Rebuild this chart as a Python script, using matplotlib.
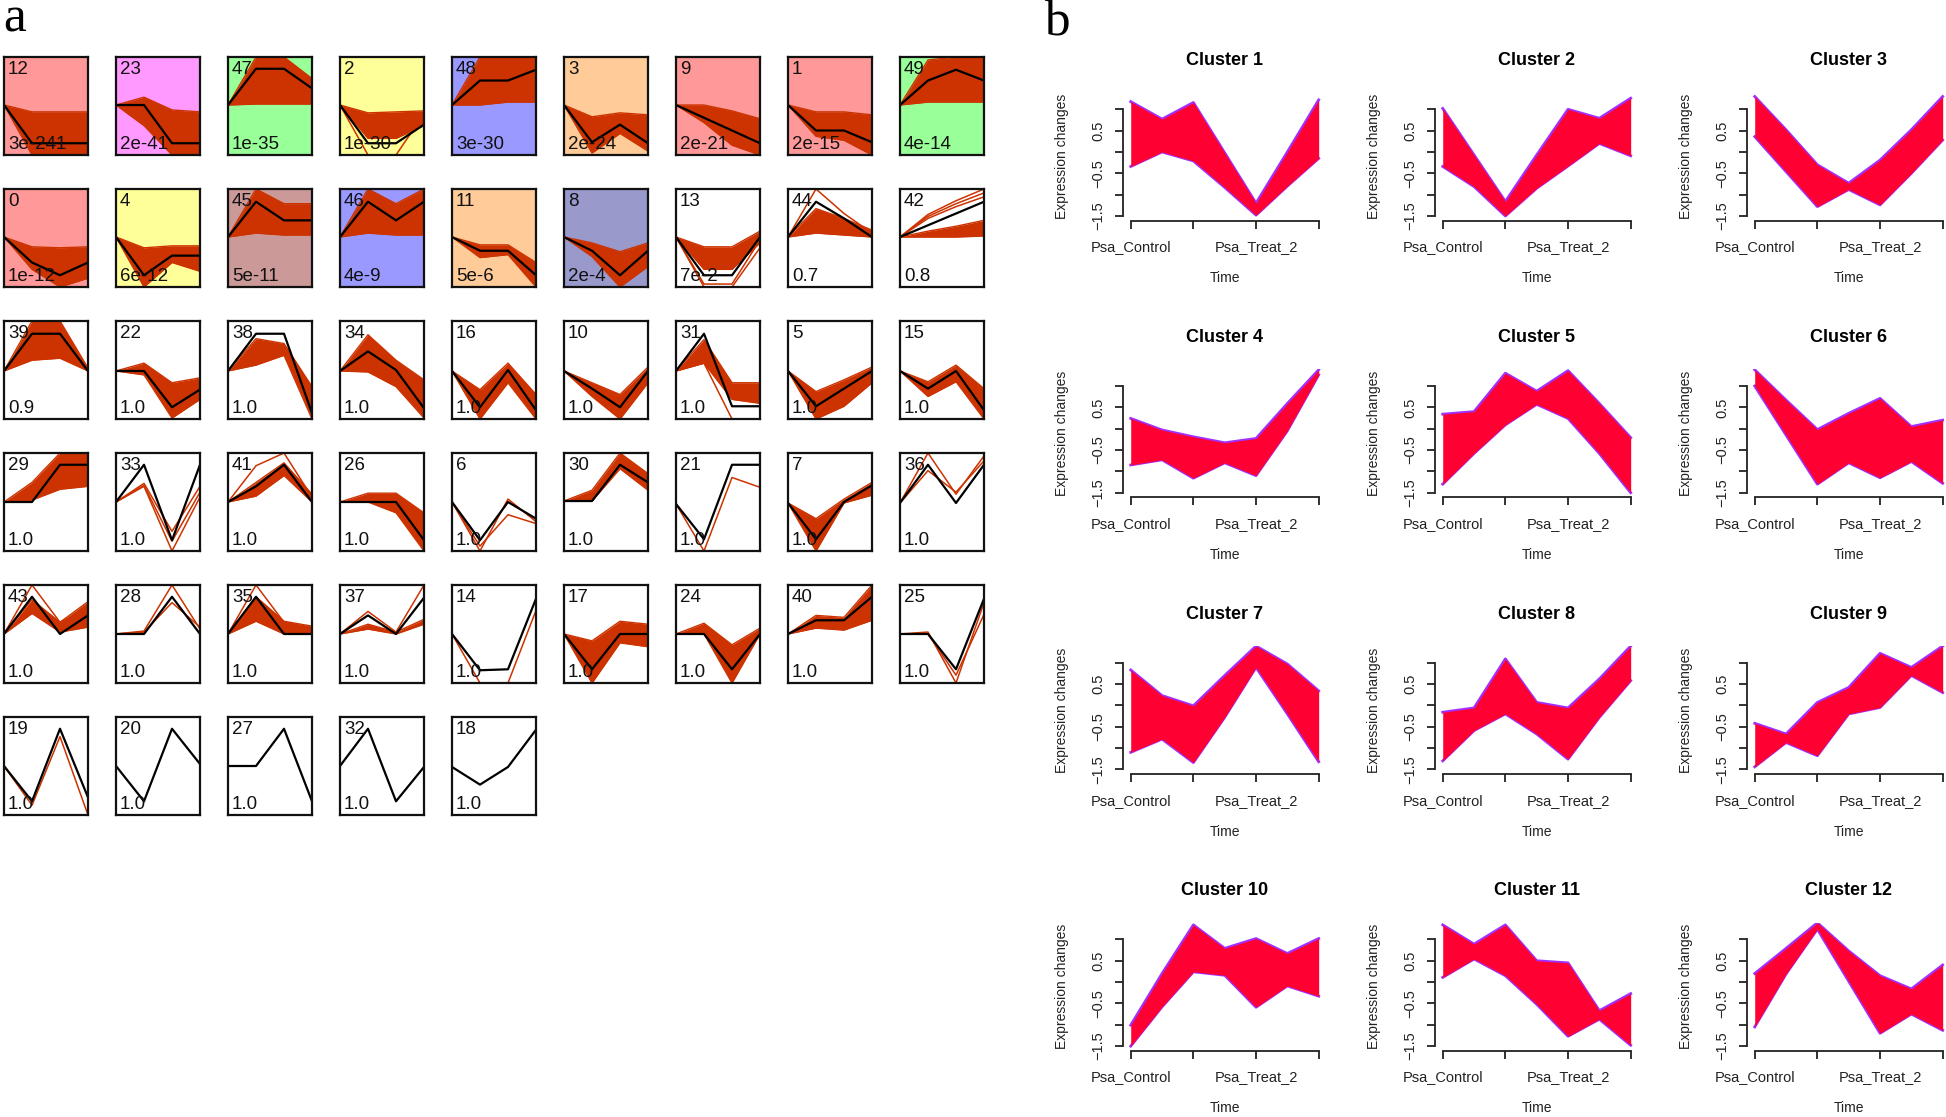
import matplotlib
matplotlib.use('Agg')
import matplotlib.pyplot as plt

# ---------------- Panel a data (STEM profiles, levels 0-100 within each box) ----------------
a_ids = [12, 23, 47, 2, 48, 3, 9, 1, 49,
         0, 4, 45, 46, 11, 8, 13, 44, 42,
         39, 22, 38, 34, 16, 10, 31, 5, 15,
         29, 33, 41, 26, 6, 30, 21, 7, 36,
         43, 28, 35, 37, 14, 17, 24, 40, 25,
         19, 20, 27, 32, 18]
a_pvals = ['3e-241', '2e-41', '1e-35', '1e-30', '3e-30', '2e-24', '2e-21', '2e-15', '4e-14',
           '1e-12', '6e-12', '5e-11', '4e-9', '5e-6', '2e-4', '7e-2', '0.7', '0.8',
           '0.9', '1.0', '1.0', '1.0', '1.0', '1.0', '1.0', '1.0', '1.0',
           '1.0', '1.0', '1.0', '1.0', '1.0', '1.0', '1.0', '1.0', '1.0',
           '1.0', '1.0', '1.0', '1.0', '1.0', '1.0', '1.0', '1.0', '1.0',
           '1.0', '1.0', '1.0', '1.0', '1.0']
a_colors = ['#FF9999', '#FF99FF', '#99FF99', '#FFFF99', '#9999FF', '#FFCC99', '#FF9999', '#FF9999', '#99FF99',
            '#FF9999', '#FFFF99', '#CC9999', '#9999FF', '#FFCC99', '#9999CC', 'white', 'white', 'white'] + ['white'] * 32
a_model = [[51, 12, 12, 12], [51, 51, 12, 12], [51, 88, 88, 68], [51, 12, 12, 31], [51, 76, 76, 87],
           [51, 13, 31, 12], [51, 38, 25, 12], [51, 25, 25, 13], [51, 76, 87, 76],
           [51, 25, 12, 25], [51, 12, 32, 32], [51, 87, 68, 68], [51, 87, 68, 87], [51, 37, 37, 12],
           [51, 37, 12, 37], [51, 12, 12, 51], [51, 87, 70, 51], [51, 63, 75, 87],
           [49, 87, 87, 49], [49, 49, 12, 30], [49, 87, 87, 6], [49, 69, 50, 11], [49, 12, 50, 9],
           [49, 31, 12, 49], [49, 87, 13, 13], [49, 13, 31, 49], [49, 31, 49, 9],
           [50, 50, 88, 88], [50, 88, 11, 88], [50, 66, 88, 50], [50, 50, 50, 11], [50, 11, 50, 33],
           [51, 51, 88, 70], [48, 12, 88, 88], [49, 12, 50, 67], [49, 88, 49, 88],
           [50, 88, 50, 69], [50, 50, 88, 50], [50, 88, 50, 50], [50, 69, 50, 87], [50, 13, 14, 86],
           [50, 14, 50, 50], [50, 50, 14, 50], [50, 64, 64, 88], [50, 50, 14, 86],
           [50, 14, 88, 18], [50, 14, 88, 52], [50, 50, 88, 14], [50, 88, 14, 49], [49, 31, 49, 87]]
a_band_hi = [[51, 44, 44, 44], [51, 59, 46, 44], [51, 100, 100, 78], [51, 43, 44, 45], [51, 100, 100, 100],
             [51, 39, 43, 41], [51, 51, 45, 37], [51, 44, 44, 41], [51, 97, 100, 100],
             [51, 41, 40, 41], [51, 40, 42, 42], [51, 100, 85, 85], [51, 100, 85, 100], [51, 43, 43, 25],
             [51, 45, 36, 45], [51, 41, 41, 57], [51, 80, 70, 58], [51, 57, 62, 68],
             [49, 100, 100, 52], [49, 57, 37, 42], [49, 82, 77, 33], [49, 86, 60, 40], [49, 30, 57, 25],
             [49, 37, 25, 53], [49, 81, 37, 37], [49, 28, 40, 53], [49, 38, 55, 31],
             [50, 70, 100, 100], None, [50, 70, 90, 58], [50, 59, 59, 39], None,
             [51, 62, 100, 79], None, [49, 33, 53, 70], None,
             [50, 85, 62, 83], None, [50, 88, 63, 58], [50, 60, 52, 65], None,
             [50, 43, 63, 60], [50, 61, 39, 56], [50, 69, 67, 100], None,
             None, None, None, None, None]
a_band_lo = [[51, 0, 0, 0], [51, 30, 0, 0], [51, 52, 52, 52], [51, 17, 17, 30], [51, 51, 54, 54],
             [51, 2, 22, 4], [51, 33, 10, 0], [51, 19, 15, 0], [51, 54, 54, 54],
             [51, 18, 0, 9], [51, 0, 25, 16], [51, 55, 53, 53], [51, 55, 53, 53], [51, 30, 33, 0],
             [51, 31, 0, 21], [51, 18, 18, 45], [51, 55, 53, 51], [51, 51, 51, 52],
             [49, 60, 62, 49], [49, 45, 1, 20], [49, 55, 65, 0], [49, 48, 33, 1], [49, 0, 37, 0],
             [49, 23, 0, 37], [49, 57, 20, 16], [49, 0, 13, 37], [49, 23, 38, 0],
             [50, 52, 63, 66], None, [50, 56, 77, 50], [50, 50, 39, 0], None,
             [51, 51, 84, 62], None, [49, 0, 49, 57], None,
             [50, 71, 52, 57], None, [50, 63, 50, 50], [50, 55, 50, 60], None,
             [50, 0, 41, 37], [50, 50, 0, 50], [50, 56, 54, 64], None,
             None, None, None, None, None]
a_lines = [[], [], [], [[51, 0, 0, 42]], [], [], [], [], [],
           [], [], [], [], [], [], [[51, 0, 0, 40], [51, 3, 3, 48]], [[51, 100, 75, 55]],
           [[51, 74, 88, 100], [51, 72, 85, 96], [51, 70, 82, 92]],
           [], [], [], [], [], [], [[49, 57, 0, 0]], [], [],
           [], [[50, 69, 20, 66], [50, 67, 10, 60], [50, 66, 0, 55]], [[50, 87, 100, 55]], [],
           [[50, 0, 53, 30], [50, 5, 37, 28]], [], [[48, 0, 75, 65]], [], [[49, 100, 58, 97], [49, 82, 60, 92]],
           [[50, 100, 62, 75]], [[50, 53, 100, 55], [50, 52, 82, 57]], [[50, 100, 62, 56]], [[50, 73, 52, 100]],
           [[50, 0, 0, 74]], [], [], [], [[50, 52, 0, 82], [50, 50, 8, 70]],
           [[50, 10, 80, 0]], [], [], [], []]
a_time = [0, 1, 2, 3]

# ---------------- Panel b data (Mfuzz cluster envelopes) ----------------
b_time = [1, 2, 3, 4, 5, 6, 7]
b_time_labels = ['Psa_Control', '', 'Psa_Treat_2', '']
b_titles = ['Cluster %d' % i for i in range(1, 13)]
b_upper = [[1.18, 0.77, 1.16, -0.02, -1.20, 0.00, 1.22],
           [1.02, -0.07, -1.16, -0.07, 1.00, 0.79, 1.26],
           [1.30, 0.52, -0.30, -0.73, -0.19, 0.52, 1.30],
           [0.24, -0.03, -0.19, -0.33, -0.23, 0.59, 1.38],
           [0.34, 0.40, 1.30, 0.88, 1.36, 0.59, -0.21],
           [1.38, 0.67, -0.02, 0.36, 0.71, 0.05, 0.20],
           [0.83, 0.23, -0.01, 0.70, 1.39, 0.97, 0.34],
           [-0.16, -0.06, 1.09, 0.07, -0.06, 0.62, 1.39],
           [-0.42, -0.67, 0.07, 0.42, 1.22, 0.89, 1.39],
           [-1.01, 0.20, 1.34, 0.79, 1.02, 0.67, 1.02],
           [1.34, 0.89, 1.34, 0.50, 0.45, -0.67, -0.27],
           [0.20, 0.79, 1.39, 0.73, 0.15, -0.16, 0.40]]
b_lower = [[-0.34, 0.00, -0.21, -0.83, -1.48, -0.80, -0.15],
           [-0.34, -0.81, -1.50, -0.85, -0.33, 0.20, -0.09],
           [0.36, -0.46, -1.28, -0.88, -1.24, -0.50, 0.28],
           [-0.85, -0.73, -1.16, -0.80, -1.10, -0.05, 1.26],
           [-1.30, -0.58, 0.09, 0.57, 0.24, -0.58, -1.50],
           [1.00, -0.15, -1.30, -0.80, -1.15, -0.77, -1.28],
           [-1.10, -0.79, -1.34, -0.28, 0.89, -0.20, -1.32],
           [-1.30, -0.59, -0.20, -0.67, -1.26, -0.28, 0.58],
           [-1.44, -0.87, -1.18, -0.20, -0.05, 0.70, 0.30],
           [-1.50, -0.58, 0.24, 0.16, -0.59, -0.09, -0.33],
           [0.11, 0.54, 0.15, -0.52, -1.27, -0.87, -1.48],
           [-1.05, 0.19, 1.24, 0.02, -1.20, -0.75, -1.13]]

# ---------------- figure ----------------
W, H = 1946, 1117
plt.rcParams['font.family'] = ['Liberation Sans', 'DejaVu Sans']
fig = plt.figure(figsize=(W / 100, H / 100), dpi=100)
fig.patch.set_facecolor('white')


def px_axes(left, top, w, h):
    return fig.add_axes([left / W, 1 - (top + h) / H, w / W, h / H])


RED = '#CC3300'
fig.text(3 / W, 1 - 32 / H, 'a', family='Liberation Serif', fontsize=37, va='baseline', ha='left')
fig.text(1044 / W, 1 - 36 / H, 'b', family='Liberation Serif', fontsize=37, va='baseline', ha='left')

for i, pid in enumerate(a_ids):
    r, c = divmod(i, 9)
    ax = px_axes(4 + 112 * c, 57 + 132 * r, 84, 98)
    ax.set_facecolor(a_colors[i])
    ax.set_xlim(0, 3)
    ax.set_ylim(0, 100)
    ax.set_xticks([])
    ax.set_yticks([])
    for s in ax.spines.values():
        s.set_linewidth(1.6)
        s.set_color('#111111')
        s.set_zorder(6)
    if a_band_hi[i] is not None:
        ax.fill_between(a_time, a_band_lo[i], a_band_hi[i], color=RED, lw=0, zorder=2)
        ax.plot(a_time, a_band_hi[i], color=RED, lw=1.0, zorder=2)
        ax.plot(a_time, a_band_lo[i], color=RED, lw=1.0, zorder=2)
    for ln in a_lines[i]:
        ax.plot(a_time, ln, color=RED, lw=1.1, zorder=2)
    ax.plot(a_time, a_model[i], color='black', lw=1.6, zorder=3)
    ax.text(4 / 84, 1 - 4 / 98, str(pid), transform=ax.transAxes, ha='left', va='top',
            fontsize=13.5, color='#111111', zorder=5)
    ax.text(4 / 84, 6 / 98, a_pvals[i], transform=ax.transAxes, ha='left', va='baseline',
            fontsize=13.5, color='#111111', zorder=5)

FILL = '#FF0033'
EDGE = '#A030FF'
for k in range(12):
    r, c = divmod(k, 3)
    ax = px_axes(1123.2 + 312 * c, 92.65 + 276.7 * r, 203, 128.05)
    ax.set_xlim(0.76, 7.24)
    ax.set_ylim(-1.61, 1.39)
    ax.plot(b_time, b_upper[k], color=EDGE, lw=2.0, zorder=2)
    ax.plot(b_time, b_lower[k], color=EDGE, lw=2.0, zorder=2)
    ax.fill_between(b_time, b_lower[k], b_upper[k], color=FILL, lw=0, zorder=3)
    ax.spines['top'].set_visible(False)
    ax.spines['right'].set_visible(False)
    ax.spines['left'].set_bounds(-1.5, 1.0)
    ax.spines['bottom'].set_bounds(1, 7)
    for s in ('left', 'bottom'):
        ax.spines[s].set_linewidth(1.3)
        ax.spines[s].set_color('#222222')
    ax.set_xticks([1, 3, 5, 7])
    ax.set_xticklabels(b_time_labels)
    ax.set_yticks([-1.5, -1.0, -0.5, 0, 0.5, 1.0])
    ax.set_yticklabels(['\u22121.5', '', '\u22120.5', '', '0.5', ''])
    ax.tick_params(axis='both', length=6, width=1.3, color='#222222', labelsize=10.5, labelcolor='#222222')
    ax.tick_params(axis='x', pad=8)
    ax.tick_params(axis='y', pad=7)
    for lab in ax.get_yticklabels():
        lab.set_rotation(90)
        lab.set_va('center')
    ax.set_title(b_titles[k], fontsize=13, fontweight='bold', pad=0, y=1 + 32 / 128, va='center')
    ax.text(0.5, -57.6 / 128, 'Time', transform=ax.transAxes, ha='center', va='center',
            fontsize=10, color='#222222')
    ax.text(-61 / 203, 0.5, 'Expression changes', transform=ax.transAxes, ha='center', va='center',
            rotation=90, fontsize=10, color='#222222')

fig.savefig('out.png', dpi=100, facecolor='white')
